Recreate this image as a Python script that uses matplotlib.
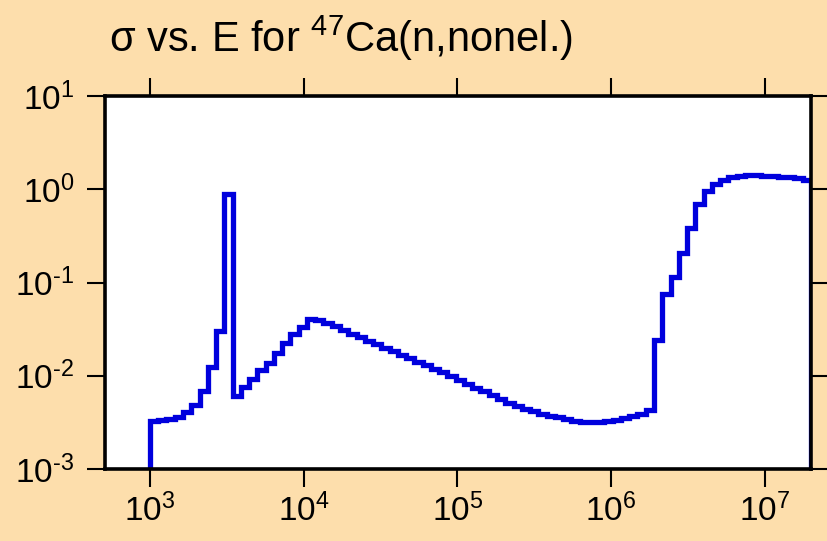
import numpy as np
import matplotlib.pyplot as plt
from matplotlib.ticker import FuncFormatter, NullLocator

plt.rcParams['font.family'] = ['Liberation Sans', 'DejaVu Sans']
plt.rcParams['mathtext.fontset'] = 'custom'
plt.rcParams['mathtext.rm'] = 'Liberation Sans'
plt.rcParams['mathtext.it'] = 'Liberation Sans:italic'
plt.rcParams['mathtext.bf'] = 'Liberation Sans:bold'

# energy grid of the histogram (eV), equal log-width bins
e_min = 1e3
e_max = 2e7
n_bins = 80

# cross section per bin (b)
sigma = [
    3.31e-3, 3.35e-3, 3.45e-3, 3.65e-3, 4.07e-3, 4.9e-3, 6.8e-3, 1.24e-2, 3.05e-2, 0.887,
    6.0e-3, 7.55e-3, 9.2e-3, 1.14e-2, 1.38e-2, 1.75e-2, 2.23e-2, 2.81e-2, 3.37e-2, 4.04e-2,
    0.0392, 0.0368, 0.0338, 0.0310, 0.0281, 0.0258, 0.0236, 0.0217, 0.0199, 0.0182,
    0.0167, 0.0154, 0.0141, 0.0129, 0.0119, 0.0109, 0.00997, 0.00904, 0.00819,
    7.36e-3, 6.78e-3, 6.25e-3, 5.61e-3, 5.16e-3, 4.76e-3, 4.39e-3, 4.14e-3, 3.91e-3, 3.72e-3,
    3.57e-3, 3.43e-3, 3.31e-3, 3.23e-3, 3.21e-3, 3.21e-3, 3.29e-3, 3.37e-3, 3.51e-3, 3.66e-3,
    3.91e-3, 4.31e-3,
    0.0242, 0.0747, 0.1154, 0.2054, 0.386, 0.688, 0.961, 1.134, 1.25, 1.34,
    1.38, 1.41, 1.41, 1.39, 1.38, 1.36, 1.34, 1.31, 1.27,
]

x_ticks = [1e3, 1e4, 1e5, 1e6, 1e7]
y_ticks = [1e-3, 1e-2, 1e-1, 1e0, 1e1]

edges = np.geomspace(e_min, e_max, n_bins + 1)

bg = '#FDDEAC'
fig = plt.figure(figsize=(8.27, 5.41), dpi=100, facecolor=bg)
ax = fig.add_axes([105 / 827, 1 - 469 / 541, 706 / 827, 373 / 541])

ax.stairs(sigma, edges, baseline=1e-3, color='#0000DD', lw=3.8)

ax.set_xscale('log')
ax.set_yscale('log')
ax.set_xlim(510, 2e7)
ax.set_ylim(1e-3, 1e1)
ax.set_xticks(x_ticks)
ax.set_yticks(y_ticks)
ax.xaxis.set_minor_locator(NullLocator())
ax.yaxis.set_minor_locator(NullLocator())


def pow10(v, pos):
    p = int(round(np.log10(v)))
    if p < 0:
        return r'$\mathregular{10^{\text{-}%d}}$' % (-p)
    return r'$\mathregular{10^{%d}}$' % p


ax.xaxis.set_major_formatter(FuncFormatter(pow10))
ax.yaxis.set_major_formatter(FuncFormatter(pow10))

ax.tick_params(which='major', direction='out', length=13, width=1.5,
               top=True, right=True, labelsize=24, color='black')
ax.tick_params(axis='x', pad=5)
ax.tick_params(axis='y', pad=9)
for s in ax.spines.values():
    s.set_linewidth(2.6)

fig.text(109 / 827, 1 - 52 / 541, 'σ vs. E for $^{47}$Ca(n,nonel.)', fontsize=30,
         va='baseline', ha='left')

fig.savefig('out.png', dpi=100, facecolor=bg)
